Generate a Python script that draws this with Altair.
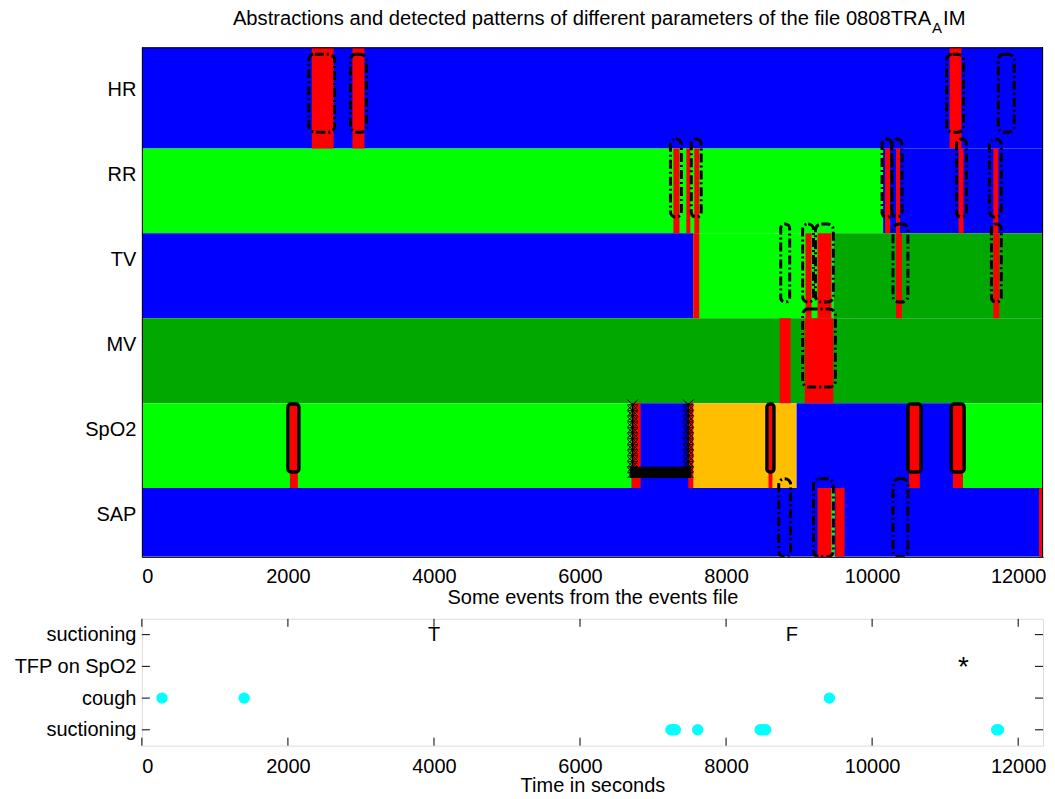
import altair as alt
import pandas as pd

FONT = "Liberation Sans"
X_MAX = 12340
W = 902
H_TOP = 510
H_BOT = 127

# ---------------- top panel data ----------------
row_names = ["HR", "RR", "TV", "MV", "SpO2", "SAP"]
row_pos = [6, 5, 4, 3, 2, 1]
row_low = [5.31, 4.31, 3.31, 2.31, 1.31, 0.5]
row_high = [6.5, 5.31, 4.31, 3.31, 2.31, 1.31]

# abstraction states: (start, end, state)
hr_states = [(0, 12340, "s1")]
rr_states = [(0, 10150, "s2"), (10150, 12340, "s1")]
tv_states = [(0, 7551, "s1"), (7551, 9469, "s2"), (9469, 12340, "s3")]
mv_states = [(0, 12340, "s3")]
spo2_states = [(0, 6707, "s2"), (6707, 7551, "s1"), (7551, 8966, "s4"),
               (8966, 11243, "s1"), (11243, 12340, "s2")]
sap_states = [(0, 9442, "s1"), (9442, 9487, "s2"), (9487, 12340, "s1")]

# detected changes (red)
hr_red = [(2327, 2626), (2884, 3048), (11061, 11224)]
rr_red = [(7279, 7361), (7456, 7510), (7565, 7633), (10177, 10245),
          (10327, 10381), (11184, 11252), (11660, 11728)]
tv_red = [(7551, 7633), (9088, 9170), (9252, 9442), (10327, 10408), (11660, 11741)]
mv_red = [(8735, 8884), (9079, 9469)]
spo2_red = [(2027, 2136), (6707, 6830), (7483, 7551), (8581, 8635),
            (10507, 10653), (11106, 11243)]
sap_red = [(9252, 9442), (9497, 9623), (12286, 12340)]

# detected patterns (dash-dot boxes)
hr_boxes = [(2286, 2639), (2857, 3075), (11020, 11252), (11728, 11946)]
rr_boxes = [(7238, 7388), (7524, 7660), (10136, 10265), (10272, 10408),
            (11156, 11293), (11605, 11769)]
tv_boxes = [(8748, 8871), (9048, 9197), (9224, 9469), (10286, 10490), (11633, 11769)]
mv_boxes = [(9048, 9497)]
spo2_boxes = []
sap_boxes = [(8721, 8884), (9197, 9469), (10286, 10490)]

# SpO2 solid outlined patterns
spo2_outlined = [(2000, 2150), (8560, 8655), (10490, 10670), (11085, 11260)]

# SpO2 marker pattern
marker_x = [6721, 7483]
marker_y = [2.29, 2.22, 2.16, 2.09, 2.02, 1.96, 1.89, 1.82, 1.76, 1.69, 1.62, 1.56, 1.49]
bar_x = [6680, 7524]
bar_y = [1.43, 1.56]

state_domain = ["s1", "s2", "s3", "s4", "change"]
state_range = ["#0000FF", "#00FF00", "#00A800", "#FFBF00", "#FF0000"]

title_main = "Abstractions and detected patterns of different parameters of the file 0808TRA"
title_sub = "A"
title_end = "IM"

# ---------------- bottom panel data ----------------
event_levels = [4, 3, 2, 1]
event_names = ["suctioning", "TFP on SpO2", "cough", "suctioning"]
suction_times = [7245, 7275, 7305, 7611, 8466, 8505, 8543, 11705, 11730]
cough_times = [276, 1401, 9415]
mark_texts = ["T", "F", "*"]
mark_times = [4000, 8900, 11250]
mark_levels = [4, 4, 3]
x_ticks = [0, 2000, 4000, 6000, 8000, 10000, 12000]

# ---------------- build tables ----------------
all_states = [hr_states, rr_states, tv_states, mv_states, spo2_states, sap_states]
all_red = [hr_red, rr_red, tv_red, mv_red, spo2_red, sap_red]
all_boxes = [hr_boxes, rr_boxes, tv_boxes, mv_boxes, spo2_boxes, sap_boxes]

base_rows, red_rows = [], []
for i, states in enumerate(all_states):
    for s, e, st in states:
        base_rows.append({"x0": s, "x1": e, "y0": row_low[i], "y1": row_high[i], "state": st})
for i, reds in enumerate(all_red):
    for s, e in reds:
        red_rows.append({"x0": s, "x1": e, "y0": row_low[i], "y1": row_high[i], "state": "change"})
base_df = pd.DataFrame(base_rows)
red_df = pd.DataFrame(red_rows)

box_rows = []
for i, bxs in enumerate(all_boxes):
    for s, e in bxs:
        box_rows.append({"x0": s, "x1": e, "y0": row_pos[i] - 0.5, "y1": row_pos[i] + 0.42})
box_df = pd.DataFrame(box_rows)

out_df = pd.DataFrame([{"x0": s, "x1": e, "y0": 1.50, "y1": 2.30} for s, e in spo2_outlined])
mk_df = pd.DataFrame([{"x": x, "y": y} for x in marker_x for y in marker_y])
vline_df = pd.DataFrame([{"x": x, "y0": min(marker_y), "y1": 2.31} for x in marker_x])
bar_df = pd.DataFrame([{"x0": bar_x[0], "x1": bar_x[1], "y0": bar_y[0], "y1": bar_y[1]}])

xscale = alt.Scale(domain=[0, X_MAX], nice=False, zero=False)
yscale = alt.Scale(domain=[0.5, 6.5], nice=False, zero=False)
cscale = alt.Scale(domain=state_domain, range=state_range)

top_label_expr = " : ".join(
    f"datum.value == {p} ? '{n}'" for p, n in zip(row_pos, row_names)) + " : ''"

x_axis_top = alt.Axis(values=x_ticks, format="d", ticks=False, grid=False, labelPadding=10,
                      labelFontSize=20, title="Some events from the events file",
                      titleFontSize=20, titleFontWeight="normal", titlePadding=1,
                      domain=True, domainColor="black", zindex=1)
y_axis_top = alt.Axis(values=row_pos, ticks=False, grid=False, labelPadding=6,
                      labelFontSize=20, labelExpr=top_label_expr,
                      domain=True, domainColor="black", zindex=1)

base = alt.Chart(base_df).mark_rect(clip=True).encode(
    x=alt.X("x0:Q", scale=xscale, axis=x_axis_top),
    x2="x1:Q",
    y=alt.Y("y0:Q", scale=yscale, axis=y_axis_top, title=None),
    y2="y1:Q",
    color=alt.Color("state:N", scale=cscale, legend=None),
)
red = alt.Chart(red_df).mark_rect(clip=True).encode(
    x="x0:Q", x2="x1:Q", y="y0:Q", y2="y1:Q",
    color=alt.Color("state:N", scale=cscale, legend=None),
)
boxes = alt.Chart(box_df).mark_rect(
    clip=True, fillOpacity=0, stroke="black", strokeWidth=3,
    strokeDash=[9, 3, 2, 3], cornerRadius=6
).encode(x="x0:Q", x2="x1:Q", y="y0:Q", y2="y1:Q")
outlined = alt.Chart(out_df).mark_rect(
    clip=True, fillOpacity=0, stroke="black", strokeWidth=3.5, cornerRadius=3
).encode(x="x0:Q", x2="x1:Q", y="y0:Q", y2="y1:Q")
vlines = alt.Chart(vline_df).mark_rule(color="black", strokeWidth=1.5).encode(
    x="x:Q", y="y0:Q", y2="y1:Q")
markers = alt.Chart(mk_df).mark_point(
    shape="M-1,-1L1,1M1,-1L-1,1M-1,0L1,0", size=110, color="black",
    strokeWidth=1, filled=False, opacity=1
).encode(x="x:Q", y="y:Q")
bar = alt.Chart(bar_df).mark_rect(color="black").encode(
    x="x0:Q", x2="x1:Q", y="y0:Q", y2="y1:Q")
frame_top = alt.Chart(bar_df).mark_rule(color="black", strokeWidth=1).encode(
    x=alt.value(0), x2=alt.value(W), y=alt.value(0.5))
frame_right = alt.Chart(bar_df).mark_rule(color="black", strokeWidth=1).encode(
    x=alt.value(W - 0.5), y=alt.value(0), y2=alt.value(H_TOP))

tdf = pd.DataFrame({"a": [title_main], "b": [title_sub], "c": [title_end]})
t1 = alt.Chart(tdf).mark_text(font=FONT, fontSize=20.2, align="right", baseline="alphabetic").encode(
    x=alt.value(790), y=alt.value(-22), text="a:N")
t2 = alt.Chart(tdf).mark_text(font=FONT, fontSize=15, align="left", baseline="alphabetic").encode(
    x=alt.value(791), y=alt.value(-14), text="b:N")
t3 = alt.Chart(tdf).mark_text(font=FONT, fontSize=20.2, align="left", baseline="alphabetic").encode(
    x=alt.value(802), y=alt.value(-22), text="c:N")

top = alt.layer(base, red, boxes, outlined, vlines, markers, bar,
                frame_top, frame_right, t1, t2, t3).properties(width=W, height=H_TOP)

# ---------------- bottom panel ----------------
bot_label_expr = " : ".join(
    f"datum.value == {p} ? '{n}'" for p, n in zip(event_levels, event_names)) + " : ''"
xscale_b = alt.Scale(domain=[0, X_MAX], nice=False, zero=False)
yscale_b = alt.Scale(domain=[0.5, 4.5], nice=False, zero=False)

pts = pd.DataFrame(
    [{"t": t, "lv": 1} for t in suction_times] + [{"t": t, "lv": 2} for t in cough_times])
txt = pd.DataFrame({"t": mark_times[:2], "lv": mark_levels[:2], "s": mark_texts[:2]})
star = pd.DataFrame({"t": mark_times[2:], "lv": mark_levels[2:], "s": mark_texts[2:]})
xt = pd.DataFrame({"t": x_ticks})
yt = pd.DataFrame({"lv": event_levels})

points = alt.Chart(pts).mark_circle(size=130, color="#00FFFF", opacity=1).encode(
    x=alt.X("t:Q", scale=xscale_b,
            axis=alt.Axis(values=x_ticks, format="d", ticks=False, grid=False, labelPadding=11,
                          labelFontSize=20, title="Time in seconds", titleFontSize=20,
                          titleFontWeight="normal", titlePadding=-1, domain=False)),
    y=alt.Y("lv:Q", scale=yscale_b,
            axis=alt.Axis(values=event_levels, ticks=False, grid=False, labelPadding=6,
                          labelFontSize=20, labelExpr=bot_label_expr, domain=False),
            title=None),
)
texts = alt.Chart(txt).mark_text(font=FONT, fontSize=20, baseline="middle").encode(
    x="t:Q", y="lv:Q", text="s:N")
star_t = alt.Chart(star).mark_text(font=FONT, fontSize=28, baseline="middle", dy=2).encode(
    x="t:Q", y="lv:Q", text="s:N")
xt_top = alt.Chart(xt).mark_rule(color="black").encode(
    x="t:Q", y=alt.value(0), y2=alt.value(8))
xt_bot = alt.Chart(xt).mark_rule(color="black").encode(
    x="t:Q", y=alt.value(H_BOT), y2=alt.value(H_BOT - 8))
yt_l = alt.Chart(yt).mark_rule(color="black").encode(
    y="lv:Q", x=alt.value(0), x2=alt.value(8))
yt_r = alt.Chart(yt).mark_rule(color="black").encode(
    y="lv:Q", x=alt.value(W), x2=alt.value(W - 8))

bottom = alt.layer(points, texts, star_t, xt_top, xt_bot, yt_l, yt_r).properties(
    width=W, height=H_BOT)

chart = alt.vconcat(top, bottom, spacing=9).properties(
    padding={"left": 5, "top": 0, "right": 0, "bottom": 0}
).configure_view(
    stroke="black", strokeWidth=1
).configure_axis(
    labelFont=FONT, titleFont=FONT, labelColor="black", titleColor="black",
    titleFontWeight="normal"
).configure(background="white")

chart.save("out.html", embed_options={"renderer": "svg", "actions": False})
